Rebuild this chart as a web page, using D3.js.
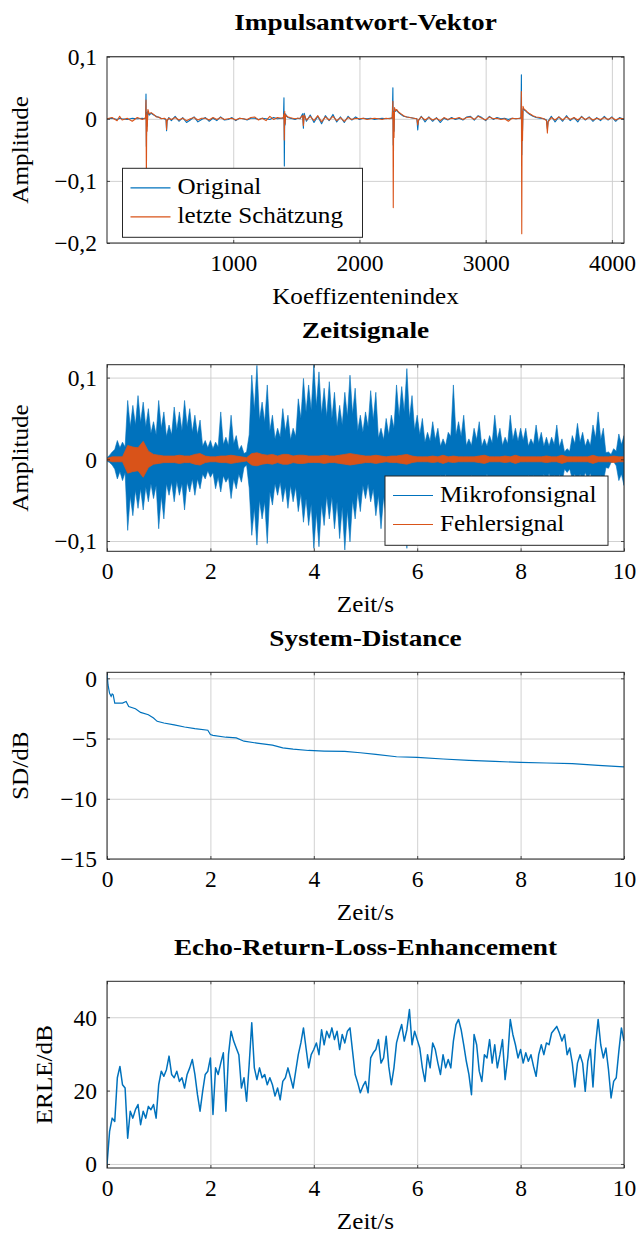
<!DOCTYPE html>
<html>
<head>
<meta charset="utf-8">
<script src="https://cdn.jsdelivr.net/npm/d3@7"></script>
<style>
  body { margin: 0; background: #fff; }
  text { font-family: "Liberation Serif", "DejaVu Serif", serif; fill: #000; }
</style>
</head>
<body>
<div id="chart"></div>
<script>
// ---- panel 1: impulse response (coefficient index, amplitude) ----
const impIdx = [
  0, 40, 80, 100, 120, 160, 200, 240, 280, 300,
  306, 309, 312, 315, 318, 324, 335,
  350, 370, 390, 410, 430, 455, 468, 472, 476, 490, 510, 540,
  570, 600, 630, 660, 690, 720, 750, 780, 810, 840, 870, 900, 930, 960, 990, 1020, 1050, 1080, 1110, 1140, 1170, 1200, 1230, 1260, 1290, 1320, 1350, 1380,
  1398, 1402, 1405, 1408, 1411, 1415, 1422, 1435,
  1450, 1470, 1490, 1510, 1530, 1550, 1556, 1562, 1580,
  1610, 1640, 1670, 1700, 1730, 1760, 1790, 1820, 1850, 1880, 1910, 1940, 1970, 2000, 2030, 2060, 2090, 2120, 2150, 2180, 2210, 2240,
  2260, 2265, 2268, 2271, 2274, 2278, 2285, 2295, 2310, 2330, 2350, 2375, 2400, 2430, 2455, 2462, 2468, 2490,
  2520, 2550, 2580, 2610, 2640, 2670, 2700, 2730, 2760, 2790, 2820, 2850, 2880, 2910, 2940, 2970, 3000, 3030, 3060, 3090, 3120, 3150, 3180, 3210, 3240, 3270,
  3280, 3283, 3286, 3289, 3292, 3296, 3303, 3315, 3330, 3350, 3375, 3400, 3430, 3460, 3482, 3489, 3495,
  3520, 3550, 3580, 3610, 3640, 3670, 3700, 3730, 3760, 3790, 3820, 3850, 3880, 3910, 3940, 3970, 4000, 4030, 4060, 4096
];
const impOrig = [
  0, 0.001, -0.001, 0.001, 0, -0.001, 0.001, 0, 0.001, 0,
  0.002, 0.040, -0.044, 0.010, -0.012, 0.012, 0.006,
  0.009, 0.006, 0.004, 0.002, 0.001, 0, -0.002, -0.019, -0.004, 0.002, -0.003, 0.004,
  -0.004, 0.002, -0.006, -0.002, 0.003, -0.005, -0.001, 0.002, -0.004, 0.001, -0.003, 0.003, -0.002, -0.001, 0.002, -0.003, 0.001, 0.000, -0.002, 0.001, 0.001, -0.001, 0.001, 0, -0.001, 0.002, 0, 0.001,
  0.001, 0.034, -0.076, 0.006, -0.010, 0.008, 0.004, 0.002,
  0.001, 0.000, -0.001, 0.001, 0.000, 0.008, -0.015, 0.009, -0.004,
  0.006, -0.006, 0.004, -0.008, 0.005, -0.003, 0.007, -0.005, 0.003, -0.006, 0.004, -0.002, 0.003, -0.001, 0.001, 0.000, 0.001, -0.001, 0.000, 0.001, 0.000, 0.001,
  0.001, 0.050, -0.042, 0.012, -0.020, 0.016, 0.012, 0.014, 0.010, 0.007, 0.004, 0.003, 0.002, 0.001, 0.000, -0.018, -0.003, 0.004,
  -0.005, 0.003, -0.004, 0.002, -0.006, 0.001, -0.002, 0.002, -0.001, 0.001, -0.002, 0.003, 0.004, -0.002, 0.005, 0.002, -0.003, 0.004, -0.001, 0.002, 0.000, 0.001, -0.001, 0.001, 0.000, 0.001,
  0.001, 0.071, -0.058, 0.010, -0.020, 0.016, 0.015, 0.013, 0.010, 0.007, 0.004, 0.002, 0.001, 0.000, -0.002, -0.016, -0.004,
  0.004, -0.005, 0.003, -0.004, 0.005, -0.003, 0.002, -0.005, 0.004, -0.002, 0.003, -0.004, 0.002, -0.003, 0.004, -0.002, 0.003, -0.004, 0.002, -0.001
];
const impEst = [
  0, 0.002, -0.003, 0.004, -0.002, 0.001, -0.004, 0.002, -0.001, 0.001,
  0.003, 0.030, -0.100, 0.006, -0.020, 0.015, 0.008,
  0.010, 0.007, 0.003, 0.003, 0, 0.001, -0.001, -0.017, -0.003, 0.001, -0.001, 0.002,
  -0.002, 0.001, -0.003, 0.000, 0.002, -0.002, 0.001, 0.001, -0.002, 0.002, -0.001, 0.002, -0.001, 0.000, 0.001, -0.002, 0.001, 0.000, -0.001, 0.002, 0.003, -0.002, 0.001, -0.003, 0.004, -0.001, 0.002, 0.001,
  0.002, 0.008, -0.034, 0.012, -0.008, 0.006, 0.005, 0.003,
  0.002, 0.001, 0.000, 0.001, 0.001, 0.005, -0.011, 0.006, -0.002,
  0.004, -0.003, 0.005, -0.005, 0.003, -0.002, 0.004, -0.003, 0.002, -0.004, 0.002, -0.001, 0.001, 0.000, 0.001, -0.001, 0.000, 0.001, 0.000, -0.001, 0.001, 0.000,
  0.002, 0.028, -0.143, 0.010, -0.030, 0.018, 0.013, 0.015, 0.011, 0.008, 0.005, 0.003, 0.002, 0.001, 0.000, -0.010, -0.002, 0.003,
  -0.002, 0.002, -0.002, 0.001, -0.003, 0.002, -0.001, 0.001, 0.000, 0.002, -0.001, 0.002, 0.003, -0.001, 0.004, 0.001, -0.002, 0.003, 0.000, 0.001, -0.001, 0.000, -0.004, 0.001, 0.000, 0.001,
  0.002, 0.044, -0.185, 0.012, -0.035, 0.020, 0.016, 0.014, 0.011, 0.008, 0.005, 0.003, 0.002, 0.000, -0.003, -0.023, -0.005,
  0.002, -0.002, 0.003, -0.002, 0.003, -0.001, 0.002, -0.002, 0.003, -0.001, 0.002, -0.002, 0.001, -0.001, 0.002, -0.001, 0.002, -0.002, 0.001, 0.000
];

// ---- time grids (seconds) ----
const time05 = [
  0, 0.05, 0.1, 0.15, 0.2, 0.25, 0.3, 0.35, 0.4, 0.45, 0.5, 0.55, 0.6, 0.65, 0.7, 0.75, 0.8, 0.85, 0.9, 0.95,
  1, 1.05, 1.1, 1.15, 1.2, 1.25, 1.3, 1.35, 1.4, 1.45, 1.5, 1.55, 1.6, 1.65, 1.7, 1.75, 1.8, 1.85, 1.9, 1.95,
  2, 2.05, 2.1, 2.15, 2.2, 2.25, 2.3, 2.35, 2.4, 2.45, 2.5, 2.55, 2.6, 2.65, 2.7, 2.75, 2.8, 2.85, 2.9, 2.95,
  3, 3.05, 3.1, 3.15, 3.2, 3.25, 3.3, 3.35, 3.4, 3.45, 3.5, 3.55, 3.6, 3.65, 3.7, 3.75, 3.8, 3.85, 3.9, 3.95,
  4, 4.05, 4.1, 4.15, 4.2, 4.25, 4.3, 4.35, 4.4, 4.45, 4.5, 4.55, 4.6, 4.65, 4.7, 4.75, 4.8, 4.85, 4.9, 4.95,
  5, 5.05, 5.1, 5.15, 5.2, 5.25, 5.3, 5.35, 5.4, 5.45, 5.5, 5.55, 5.6, 5.65, 5.7, 5.75, 5.8, 5.85, 5.9, 5.95,
  6, 6.05, 6.1, 6.15, 6.2, 6.25, 6.3, 6.35, 6.4, 6.45, 6.5, 6.55, 6.6, 6.65, 6.7, 6.75, 6.8, 6.85, 6.9, 6.95,
  7, 7.05, 7.1, 7.15, 7.2, 7.25, 7.3, 7.35, 7.4, 7.45, 7.5, 7.55, 7.6, 7.65, 7.7, 7.75, 7.8, 7.85, 7.9, 7.95,
  8, 8.05, 8.1, 8.15, 8.2, 8.25, 8.3, 8.35, 8.4, 8.45, 8.5, 8.55, 8.6, 8.65, 8.7, 8.75, 8.8, 8.85, 8.9, 8.95,
  9, 9.05, 9.1, 9.15, 9.2, 9.25, 9.3, 9.35, 9.4, 9.45, 9.5, 9.55, 9.6, 9.65, 9.7, 9.75, 9.8, 9.85, 9.9, 9.95,
  10
];
const time10 = [
  0, 0.1, 0.2, 0.3, 0.4, 0.5, 0.6, 0.7, 0.8, 0.9,
  1, 1.1, 1.2, 1.3, 1.4, 1.5, 1.6, 1.7, 1.8, 1.9,
  2, 2.1, 2.2, 2.3, 2.4, 2.5, 2.6, 2.7, 2.8, 2.9,
  3, 3.1, 3.2, 3.3, 3.4, 3.5, 3.6, 3.7, 3.8, 3.9,
  4, 4.1, 4.2, 4.3, 4.4, 4.5, 4.6, 4.7, 4.8, 4.9,
  5, 5.1, 5.2, 5.3, 5.4, 5.5, 5.6, 5.7, 5.8, 5.9,
  6, 6.1, 6.2, 6.3, 6.4, 6.5, 6.6, 6.7, 6.8, 6.9,
  7, 7.1, 7.2, 7.3, 7.4, 7.5, 7.6, 7.7, 7.8, 7.9,
  8, 8.1, 8.2, 8.3, 8.4, 8.5, 8.6, 8.7, 8.8, 8.9,
  9, 9.1, 9.2, 9.3, 9.4, 9.5, 9.6, 9.7, 9.8, 9.9,
  10
];

// ---- panel 2: microphone signal envelope (per 0.05 s) and error signal amplitude (per 0.1 s) ----
const micTop = [
  0.002, 0.005, 0.009, 0.012, 0.023, 0.014, 0.021, 0.015, 0.072, 0.040, 0.066, 0.042, 0.078, 0.045, 0.070, 0.040, 0.062, 0.032, 0.046, 0.030,
  0.072, 0.038, 0.058, 0.028, 0.042, 0.030, 0.064, 0.036, 0.058, 0.035, 0.072, 0.040, 0.062, 0.033, 0.054, 0.030, 0.048, 0.016, 0.023, 0.014,
  0.023, 0.013, 0.021, 0.015, 0.058, 0.018, 0.027, 0.017, 0.054, 0.019, 0.029, 0.011, 0.017, 0.007, 0.009, 0.030, 0.103, 0.060, 0.115, 0.048,
  0.070, 0.045, 0.091, 0.035, 0.054, 0.025, 0.038, 0.027, 0.062, 0.034, 0.054, 0.024, 0.038, 0.028, 0.074, 0.050, 0.099, 0.058, 0.091, 0.060,
  0.116, 0.065, 0.107, 0.055, 0.087, 0.052, 0.095, 0.050, 0.082, 0.040, 0.066, 0.042, 0.082, 0.052, 0.103, 0.055, 0.087, 0.035, 0.054, 0.033,
  0.058, 0.040, 0.084, 0.048, 0.082, 0.026, 0.038, 0.024, 0.050, 0.030, 0.054, 0.038, 0.091, 0.052, 0.089, 0.058, 0.111, 0.050, 0.078, 0.036,
  0.054, 0.030, 0.050, 0.021, 0.033, 0.022, 0.046, 0.024, 0.038, 0.016, 0.025, 0.017, 0.033, 0.028, 0.091, 0.030, 0.046, 0.028, 0.054, 0.017,
  0.025, 0.017, 0.038, 0.024, 0.046, 0.016, 0.025, 0.016, 0.029, 0.020, 0.054, 0.024, 0.038, 0.017, 0.027, 0.019, 0.054, 0.024, 0.038, 0.022,
  0.038, 0.023, 0.038, 0.016, 0.025, 0.018, 0.042, 0.020, 0.033, 0.016, 0.027, 0.016, 0.027, 0.018, 0.042, 0.015, 0.025, 0.009, 0.013, 0.010,
  0.029, 0.019, 0.044, 0.021, 0.033, 0.016, 0.025, 0.017, 0.042, 0.026, 0.058, 0.024, 0.038, 0.008, 0.009, 0.006, 0.013, 0.010, 0.031, 0.018,
  0.029
];
const micBot = [
  -0.002, -0.004, -0.007, -0.012, -0.024, -0.015, -0.026, -0.016, -0.087, -0.045, -0.069, -0.038, -0.060, -0.036, -0.062, -0.034, -0.052, -0.030, -0.048, -0.032,
  -0.085, -0.045, -0.073, -0.030, -0.044, -0.028, -0.052, -0.027, -0.044, -0.030, -0.062, -0.028, -0.040, -0.024, -0.044, -0.024, -0.036, -0.018, -0.024, -0.014,
  -0.022, -0.016, -0.036, -0.022, -0.040, -0.020, -0.028, -0.022, -0.048, -0.024, -0.036, -0.018, -0.028, -0.010, -0.007, -0.035, -0.093, -0.060, -0.105, -0.050,
  -0.073, -0.052, -0.103, -0.040, -0.056, -0.030, -0.044, -0.028, -0.052, -0.033, -0.060, -0.032, -0.052, -0.034, -0.064, -0.042, -0.077, -0.048, -0.081, -0.055,
  -0.109, -0.065, -0.107, -0.055, -0.081, -0.045, -0.073, -0.046, -0.085, -0.052, -0.097, -0.058, -0.111, -0.062, -0.101, -0.050, -0.073, -0.040, -0.064, -0.032,
  -0.048, -0.030, -0.052, -0.036, -0.069, -0.044, -0.085, -0.046, -0.073, -0.040, -0.064, -0.042, -0.081, -0.045, -0.073, -0.052, -0.109, -0.055, -0.077, -0.038,
  -0.052, -0.030, -0.048, -0.027, -0.044, -0.026, -0.044, -0.024, -0.036, -0.019, -0.028, -0.018, -0.032, -0.024, -0.052, -0.028, -0.040, -0.025, -0.044, -0.021,
  -0.028, -0.019, -0.036, -0.022, -0.040, -0.020, -0.028, -0.018, -0.032, -0.023, -0.044, -0.024, -0.036, -0.020, -0.032, -0.023, -0.044, -0.024, -0.036, -0.022,
  -0.036, -0.021, -0.036, -0.019, -0.028, -0.019, -0.036, -0.020, -0.032, -0.018, -0.030, -0.017, -0.028, -0.019, -0.036, -0.018, -0.028, -0.012, -0.016, -0.012,
  -0.024, -0.018, -0.032, -0.018, -0.028, -0.016, -0.024, -0.017, -0.032, -0.021, -0.036, -0.019, -0.028, -0.010, -0.011, -0.004, -0.003, -0.008, -0.026, -0.018,
  -0.032
];
const errAmp = [
  0.001, 0.003, 0.003, 0.003, 0.017, 0.015, 0.014, 0.022, 0.010, 0.006,
  0.005, 0.004, 0.004, 0.004, 0.005, 0.004, 0.004, 0.006, 0.007, 0.004,
  0.003, 0.003, 0.004, 0.004, 0.005, 0.004, 0.003, 0.002, 0.007, 0.008,
  0.006, 0.005, 0.006, 0.004, 0.006, 0.006, 0.004, 0.005, 0.005, 0.004,
  0.004, 0.004, 0.005, 0.004, 0.004, 0.005, 0.006, 0.007, 0.006, 0.005,
  0.004, 0.004, 0.005, 0.004, 0.003, 0.004, 0.004, 0.005, 0.006, 0.004,
  0.003, 0.003, 0.003, 0.004, 0.003, 0.005, 0.003, 0.004, 0.003, 0.003,
  0.003, 0.003, 0.004, 0.005, 0.003, 0.003, 0.003, 0.004, 0.003, 0.005,
  0.003, 0.003, 0.003, 0.003, 0.003, 0.004, 0.003, 0.003, 0.005, 0.003,
  0.003, 0.003, 0.003, 0.003, 0.005, 0.003, 0.003, 0.003, 0.004, 0.003,
  0.003
];

// ---- panel 3: system distance ----
const sdTime = [0, 0.02, 0.05, 0.08, 0.1, 0.12, 0.15, 0.3, 0.37, 0.42, 0.55, 0.65, 0.8, 0.9, 0.97,
  1.1, 1.3, 1.5, 1.7, 1.95, 2.0, 2.05, 2.3, 2.5, 2.65, 2.9, 3.2, 3.4, 3.6, 3.9, 4.2, 4.6, 4.9,
  5.2, 5.6, 6.0, 6.5, 7.0, 7.5, 8.0, 8.5, 9.0, 9.5, 10];
const sdVals = [0.5, -0.55, -1.24, -1.5, -1.3, -1.37, -2.06, -2.06, -1.92, -2.34, -2.53, -2.83, -3.02, -3.30, -3.57,
  -3.71, -3.87, -4.04, -4.18, -4.31, -4.67, -4.73, -4.89, -4.95, -5.22, -5.38, -5.55, -5.77, -5.88, -5.99, -6.04, -6.07, -6.18,
  -6.32, -6.51, -6.57, -6.70, -6.81, -6.90, -6.98, -7.03, -7.09, -7.23, -7.35];

// ---- panel 4: ERLE per 0.05 s ----
const erleVals = [
  -0.2, 8.9, 12.5, 11.6, 23.5, 26.6, 21.6, 20.7, 7.0, 14.4, 12.5, 14.8, 16.2, 10.7, 14.4, 12.5, 15.7, 14.8, 16.2, 12.5,
  21.6, 25.3, 23.9, 25.7, 29.4, 24.4, 23.5, 25.3, 22.5, 23.5, 20.7, 24.4, 26.2, 28.5, 24.4, 18.9, 14.4, 19.8, 24.4, 25.3,
  28.9, 13.5, 26.2, 24.4, 27.5, 30.3, 14.4, 29.8, 36.2, 33.5, 31.6, 29.8, 20.7, 23.5, 17.1, 27.1, 38.5, 26.2, 23.0, 26.2,
  23.5, 24.4, 21.6, 23.5, 21.6, 18.5, 20.7, 17.5, 22.5, 23.5, 26.2, 23.5, 20.7, 25.3, 29.8, 33.0, 37.1, 31.6, 26.2, 29.8,
  31.2, 33.0, 29.8, 36.6, 32.5, 36.2, 34.4, 37.1, 33.9, 36.2, 31.2, 35.3, 33.0, 36.2, 37.1, 30.7, 24.4, 22.1, 19.4, 21.2,
  22.5, 19.4, 28.9, 30.3, 31.2, 33.9, 27.5, 28.9, 34.8, 26.6, 21.6, 26.2, 33.0, 35.7, 38.0, 33.5, 36.6, 42.1, 32.5, 36.2,
  33.9, 31.6, 26.2, 22.5, 29.8, 26.2, 33.0, 31.2, 27.5, 24.4, 29.8, 26.2, 28.5, 26.2, 33.5, 38.0, 39.4, 36.6, 32.5, 28.0,
  24.4, 18.9, 35.3, 32.5, 25.3, 22.5, 29.8, 28.9, 33.9, 27.5, 32.5, 26.2, 29.8, 33.9, 23.0, 28.9, 39.4, 35.3, 32.5, 28.9,
  31.2, 27.5, 30.3, 28.0, 29.8, 26.6, 23.9, 29.8, 32.5, 29.8, 33.0, 32.5, 35.7, 36.6, 37.5, 35.7, 33.5, 35.3, 29.8, 31.6,
  27.5, 21.0, 27.5, 29.8, 27.5, 19.8, 28.0, 31.2, 21.0, 32.5, 39.4, 32.5, 28.9, 31.6, 25.7, 18.0, 22.5, 23.5, 30.7, 37.1,
  33.5
];

const timeTicks = [0, 2, 4, 6, 8, 10];

// ---- layout ----
const width = 638, height = 1233;
const plotLeft = 107, plotRight = 624;
const blue = "#0072bd", orange = "#d95319";
const gridColor = "#cccccc", axisColor = "#262626";
const fontSize = 23.5;

const fmt = d3.formatLocale({ decimal: ",", currency: ["", ""], minus: "\u2212" }).format("");

const svg = d3.select("#chart")
  .append("svg")
  .attr("width", width)
  .attr("height", height);

// widen the Times-like glyphs a bit towards Computer Modern proportions
function widen(sel, factor) {
  sel.each(function () {
    const len = this.getComputedTextLength();
    d3.select(this).attr("textLength", len * factor).attr("lengthAdjust", "spacingAndGlyphs");
  });
  return sel;
}

let clipId = 0;

function drawPanel(p) {
  const g = svg.append("g");
  const x = d3.scaleLinear().domain(p.xDomain).range([plotLeft, plotRight]);
  const y = d3.scaleLinear().domain(p.yDomain).range([p.bottom, p.top]);
  const h = p.bottom - p.top;

  // grid
  g.append("g")
    .attr("transform", `translate(0,${p.bottom})`)
    .call(d3.axisBottom(x).tickValues(p.xTicks).tickSize(-h).tickFormat(""))
    .call(a => a.select(".domain").remove())
    .selectAll("line").attr("stroke", gridColor).attr("stroke-width", 0.9);
  g.append("g")
    .attr("transform", `translate(${plotLeft},0)`)
    .call(d3.axisLeft(y).tickValues(p.yTicks).tickSize(-(plotRight - plotLeft)).tickFormat(""))
    .call(a => a.select(".domain").remove())
    .selectAll("line").attr("stroke", gridColor).attr("stroke-width", 0.9);

  // data, clipped to plot area
  const id = "clip" + (clipId++);
  g.append("clipPath").attr("id", id)
    .append("rect")
    .attr("x", plotLeft).attr("y", p.top)
    .attr("width", plotRight - plotLeft).attr("height", h);
  const dataG = g.append("g").attr("clip-path", `url(#${id})`);
  p.draw(dataG, x, y);

  // frame
  g.append("rect")
    .attr("x", plotLeft).attr("y", p.top)
    .attr("width", plotRight - plotLeft).attr("height", h)
    .attr("fill", "none").attr("stroke", axisColor).attr("stroke-width", 1);

  // small inner ticks on all four sides
  [[d3.axisBottom(x), `translate(0,${p.bottom})`, p.xTicks],
   [d3.axisTop(x), `translate(0,${p.top})`, p.xTicks],
   [d3.axisLeft(y), `translate(${plotLeft},0)`, p.yTicks],
   [d3.axisRight(y), `translate(${plotRight},0)`, p.yTicks]].forEach(([ax, tr, tv]) => {
    g.append("g").attr("transform", tr)
      .call(ax.tickValues(tv).tickSize(-3).tickFormat(""))
      .call(a => a.select(".domain").remove())
      .selectAll("line").attr("stroke", axisColor).attr("stroke-width", 0.8);
  });

  // tick labels
  g.append("g")
    .attr("transform", `translate(0,${p.bottom})`)
    .call(d3.axisBottom(x).tickValues(p.xTicks).tickSize(0).tickFormat(fmt))
    .call(a => a.select(".domain").remove())
    .selectAll("text")
    .attr("y", 28).attr("dy", null)
    .style("font-size", fontSize + "px").attr("fill", "#000");
  g.append("g")
    .attr("transform", `translate(${plotLeft},0)`)
    .call(d3.axisLeft(y).tickValues(p.yTicks).tickSize(0).tickPadding(10).tickFormat(fmt))
    .call(a => a.select(".domain").remove())
    .selectAll("text")
    .attr("dy", "0.33em")
    .style("font-size", fontSize + "px").attr("fill", "#000");

  // title and axis labels
  widen(g.append("text")
    .attr("x", (plotLeft + plotRight) / 2).attr("y", p.top - 26.5)
    .attr("text-anchor", "middle")
    .style("font-size", fontSize + "px").style("font-weight", "bold")
    .text(p.title), 1.16);
  widen(g.append("text")
    .attr("x", (plotLeft + plotRight) / 2).attr("y", p.bottom + 61)
    .attr("text-anchor", "middle")
    .style("font-size", fontSize + "px")
    .text(p.xLabel), 1.07);
  widen(g.append("text")
    .attr("transform", `translate(${p.yLabelX},${(p.top + p.bottom) / 2}) rotate(-90)`)
    .attr("text-anchor", "middle")
    .style("font-size", fontSize + "px")
    .text(p.yLabel), 1.07);

  if (p.legend) {
    const L = p.legend;
    const lg = g.append("g").attr("transform", `translate(${L.x},${L.y})`);
    lg.append("rect")
      .attr("width", L.w).attr("height", L.h)
      .attr("fill", "#fff").attr("stroke", axisColor).attr("stroke-width", 1);
    L.items.forEach((it, i) => {
      const ly = 19.5 + i * 29;
      lg.append("line")
        .attr("x1", 8).attr("x2", 48).attr("y1", ly).attr("y2", ly)
        .attr("stroke", it.color).attr("stroke-width", 1.2);
      widen(lg.append("text")
        .attr("x", 55).attr("y", ly + 6.5)
        .style("font-size", fontSize + "px")
        .text(it.label), 1.07);
    });
  }
}

// Panel 1
drawPanel({
  top: 56.7, bottom: 243,
  xDomain: [0, 4096], yDomain: [-0.2, 0.1],
  xTicks: [1000, 2000, 3000, 4000],
  yTicks: [-0.2, -0.1, 0, 0.1],
  title: "Impulsantwort-Vektor", xLabel: "Koeffizentenindex", yLabel: "Amplitude", yLabelX: 28,
  legend: { x: 122.5, y: 168.3, w: 240, h: 69,
    items: [{ label: "Original", color: blue }, { label: "letzte Schätzung", color: orange }] },
  draw: (gg, x, y) => {
    const mk = vals => d3.line().x((d, i) => x(impIdx[i])).y(d => y(d))(vals);
    gg.append("path").attr("d", mk(impOrig))
      .attr("fill", "none").attr("stroke", blue).attr("stroke-width", 1.1).attr("stroke-linejoin", "round");
    gg.append("path").attr("d", mk(impEst))
      .attr("fill", "none").attr("stroke", orange).attr("stroke-width", 1.1).attr("stroke-linejoin", "round");
  }
});

// Panel 2
drawPanel({
  top: 364.7, bottom: 551.3,
  xDomain: [0, 10], yDomain: [-0.1126, 0.1158],
  xTicks: timeTicks,
  yTicks: [-0.1, 0, 0.1],
  title: "Zeitsignale", xLabel: "Zeit/s", yLabel: "Amplitude", yLabelX: 28,
  legend: { x: 385, y: 476, w: 223, h: 69.3,
    items: [{ label: "Mikrofonsignal", color: blue }, { label: "Fehlersignal", color: orange }] },
  draw: (gg, x, y) => {
    const micArea = d3.area()
      .x((d, i) => x(time05[i]))
      .y0((d, i) => y(micBot[i]))
      .y1((d, i) => y(micTop[i]));
    gg.append("path").attr("d", micArea(time05))
      .attr("fill", blue).attr("stroke", blue).attr("stroke-width", 0.6);
    const errArea = d3.area()
      .x((d, i) => x(time10[i]))
      .y0((d, i) => y(-errAmp[i]))
      .y1((d, i) => y(errAmp[i]));
    gg.append("path").attr("d", errArea(time10))
      .attr("fill", orange).attr("stroke", orange).attr("stroke-width", 0.8);
  }
});

// Panel 3
drawPanel({
  top: 672.3, bottom: 859,
  xDomain: [0, 10], yDomain: [-15, 0.5],
  xTicks: timeTicks,
  yTicks: [-15, -10, -5, 0],
  title: "System-Distance", xLabel: "Zeit/s", yLabel: "SD/dB", yLabelX: 28,
  draw: (gg, x, y) => {
    const line = d3.line().x((d, i) => x(sdTime[i])).y(d => y(d));
    gg.append("path").attr("d", line(sdVals))
      .attr("fill", "none").attr("stroke", blue).attr("stroke-width", 1.2);
  }
});

// Panel 4
drawPanel({
  top: 981.3, bottom: 1168,
  xDomain: [0, 10], yDomain: [-1.1, 49.8],
  xTicks: timeTicks,
  yTicks: [0, 20, 40],
  title: "Echo-Return-Loss-Enhancement", xLabel: "Zeit/s", yLabel: "ERLE/dB", yLabelX: 52,
  draw: (gg, x, y) => {
    const line = d3.line().x((d, i) => x(time05[i])).y(d => y(d));
    gg.append("path").attr("d", line(erleVals))
      .attr("fill", "none").attr("stroke", blue).attr("stroke-width", 1.5).attr("stroke-linejoin", "round");
  }
});
</script>
</body>
</html>
